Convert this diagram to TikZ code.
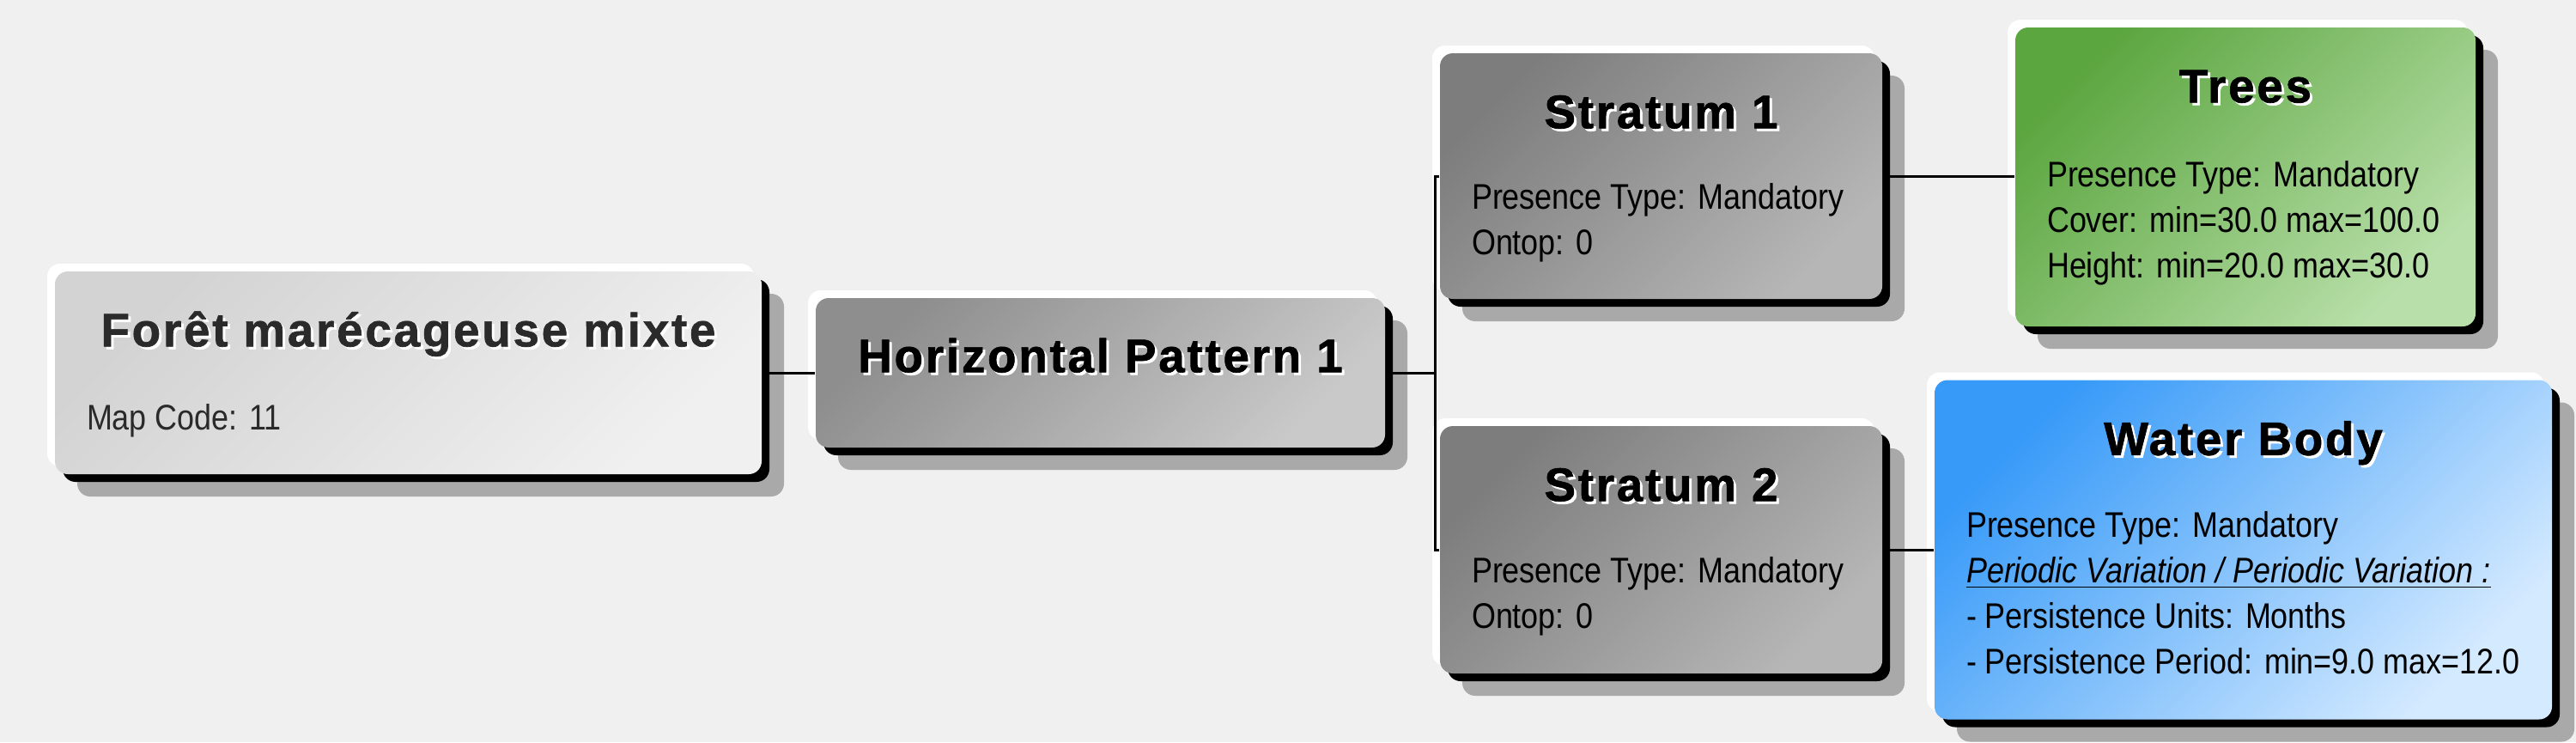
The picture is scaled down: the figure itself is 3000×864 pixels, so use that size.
\documentclass[tikz,border=0pt]{standalone}
\usepackage{fontspec}
\setmainfont{Liberation Sans}
\newfontfamily\bodyfont[FakeStretch=0.867]{Liberation Sans}
\newfontfamily\titlefont[LetterSpace=5, BoldFeatures={FakeBold=1.2}]{Liberation Sans}
\usetikzlibrary{shadows, calc, positioning}

\definecolor{bg}{HTML}{F0F0F0}
\definecolor{shadowgray}{HTML}{A9A9A9}
\definecolor{titlegray}{HTML}{2A2A2A}
\definecolor{cA1}{HTML}{D3D3D3}
\definecolor{cA2}{HTML}{F0F0F0}
\definecolor{cB1}{HTML}{8E8E8E}
\definecolor{cB2}{HTML}{C9C9C9}
\definecolor{cS1}{HTML}{7D7D7D}
\definecolor{cS2}{HTML}{B6B6B6}
\definecolor{cT1}{HTML}{5CA640}
\definecolor{cT2}{HTML}{B8DFA9}
\definecolor{cW1}{HTML}{379AF8}
\definecolor{cW2}{HTML}{D4EAFF}

% title with a small offset shadow behind it
\newcommand{\embossed}[2][white]{\makebox[0pt][l]{\kern0.3mm\raisebox{-0.3mm}{\textcolor{#1}{#2}}}#2}

\tikzset{
  card/.style={rounded corners=1.5mm, inner sep=0pt, draw=none,
    general shadow={fill=shadowgray, shadow xshift=2.6mm, shadow yshift=-2.6mm},
    general shadow={fill=black, shadow xshift=0.9mm, shadow yshift=-0.9mm},
    general shadow={fill=white, shadow xshift=-0.9mm, shadow yshift=0.9mm}},
  grad/.style 2 args={top color=#1, bottom color=#2, shading angle=45},
  title/.style={anchor=base, inner sep=0pt,
    font=\titlefont\bfseries\fontsize{15.6}{18}\selectfont},
  body/.style={anchor=north west, inner sep=0pt, align=left,
    font=\bodyfont\fontsize{11.8}{15.08}\selectfont},
  link/.style={line width=0.3mm}
}

\begin{document}
\begin{tikzpicture}[x=0.1mm, y=-0.1mm]
  \fill[bg] (0,0) rectangle (3000,864);

  % cards
  \node[card, grad={cA1}{cA2}, minimum width=82.3mm, minimum height=23.6mm] (foret) at (475.5,434) {};
  \node[card, grad={cB1}{cB2}, minimum width=66.3mm, minimum height=17.4mm] (pattern) at (1281.5,434) {};
  \node[card, grad={cS1}{cS2}, minimum width=51.5mm, minimum height=28.6mm] (stratum1) at (1934.5,205) {};
  \node[card, grad={cS1}{cS2}, minimum width=51.5mm, minimum height=28.8mm] (stratum2) at (1934.5,640) {};
  \node[card, grad={cT1}{cT2}, minimum width=53.6mm, minimum height=34.8mm] (trees) at (2615,206) {};
  \node[card, grad={cW1}{cW2}, minimum width=71.9mm, minimum height=39.5mm] (water) at (2612.5,640) {};

  % titles
  \node[title, text=titlegray] (foret-t) at ($(foret.north)+(0,88)$) {\embossed{Forêt marécageuse mixte}};
  \node[title] (pattern-t) at ($(pattern.north)+(0,87)$) {\embossed{Horizontal Pattern 1}};
  \node[title] (stratum1-t) at ($(stratum1.north)+(0,88)$) {\embossed{Stratum 1}};
  \node[title] (stratum2-t) at ($(stratum2.north)+(0,88)$) {\embossed{Stratum 2}};
  \node[title] (trees-t) at ($(trees.north)+(0,88)$) {\embossed{Trees}};
  \node[title] (water-t) at ($(water.north)+(0,88)$) {\embossed{Water Body}};

  % attributes
  \node[body, text=titlegray] (foret-b) at ($(foret.north west)+(37,154)$) {Map Code: 11};
  \node[body] (stratum1-b) at ($(stratum1.north west)+(37,151)$) {Presence Type: Mandatory\\Ontop: 0};
  \node[body] (stratum2-b) at ($(stratum2.north west)+(37,152)$) {Presence Type: Mandatory\\Ontop: 0};
  \node[body] (trees-b) at ($(trees.north west)+(37,155)$) {Presence Type: Mandatory\\Cover: min=30.0 max=100.0\\Height: min=20.0 max=30.0};
  \node[body] (water-b) at ($(water.north west)+(37,153)$) {Presence Type: Mandatory\\
    \underline{\smash{\textit{Periodic Variation / Periodic Variation :}}}\\
    - Persistence Units: Months\\- Persistence Period: min=9.0 max=12.0};

  % links
  \coordinate (fork) at (1671,434);
  \draw[link] (foret) -- (pattern);
  \draw[link] (pattern) -- (fork);
  \draw[link] (stratum1.west) -| (fork) |- (stratum2.west);
  \draw[link] (stratum1.east) -- (stratum1.east -| trees.west);
  \draw[link] (stratum2) -- (water);
\end{tikzpicture}
\end{document}
